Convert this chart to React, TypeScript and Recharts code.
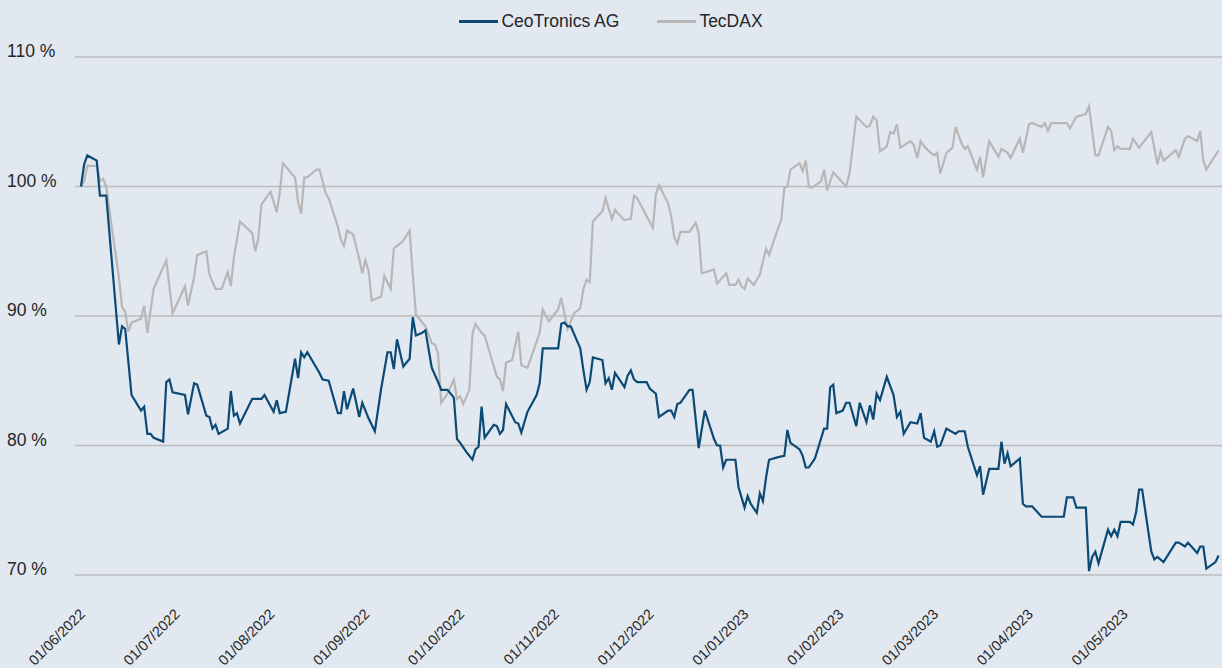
import { CartesianGrid, Line, LineChart, XAxis, YAxis } from "recharts";

const SERIES_NAMES = ["CeoTronics AG", "TecDAX"];
const SERIES_COLORS = ["#0b4a75", "#b8b6b6"];

const MONTH_LABELS = [
  "01/06/2022",
  "01/07/2022",
  "01/08/2022",
  "01/09/2022",
  "01/10/2022",
  "01/11/2022",
  "01/12/2022",
  "01/01/2023",
  "01/02/2023",
  "01/03/2023",
  "01/04/2023",
  "01/05/2023",
];

const Y_TICKS = [70, 80, 90, 100, 110];

// indexed performance, 01/06/2022 = 100 %
const ceotronics: [string, number][] = [
  ["2022-06-01", 100.0], ["2022-06-02", 101.7], ["2022-06-03", 102.4], ["2022-06-06", 102.0],
  ["2022-06-07", 99.3], ["2022-06-09", 99.3], ["2022-06-13", 87.8], ["2022-06-14", 89.2],
  ["2022-06-15", 89.0], ["2022-06-17", 83.9], ["2022-06-20", 82.7], ["2022-06-21", 83.0],
  ["2022-06-22", 80.9], ["2022-06-23", 80.9], ["2022-06-24", 80.6], ["2022-06-27", 80.3],
  ["2022-06-28", 84.9], ["2022-06-29", 85.1], ["2022-06-30", 84.1], ["2022-07-04", 83.9],
  ["2022-07-05", 82.4], ["2022-07-07", 84.8], ["2022-07-08", 84.7], ["2022-07-11", 82.3],
  ["2022-07-12", 82.2], ["2022-07-13", 81.3], ["2022-07-14", 81.6], ["2022-07-15", 80.9],
  ["2022-07-18", 81.3], ["2022-07-19", 84.2], ["2022-07-20", 82.3], ["2022-07-21", 82.5],
  ["2022-07-22", 81.7], ["2022-07-26", 83.6], ["2022-07-29", 83.6], ["2022-07-30", 83.9],
  ["2022-08-02", 82.6], ["2022-08-03", 83.5], ["2022-08-04", 82.5], ["2022-08-06", 82.6],
  ["2022-08-09", 86.7], ["2022-08-10", 85.2], ["2022-08-11", 87.2], ["2022-08-12", 86.8],
  ["2022-08-13", 87.2], ["2022-08-17", 85.6], ["2022-08-18", 85.1], ["2022-08-20", 85.0],
  ["2022-08-23", 82.5], ["2022-08-24", 82.5], ["2022-08-25", 84.2], ["2022-08-26", 82.8],
  ["2022-08-28", 84.4], ["2022-08-30", 82.2], ["2022-08-31", 83.3], ["2022-09-02", 82.1],
  ["2022-09-04", 81.1], ["2022-09-06", 84.4], ["2022-09-08", 87.2], ["2022-09-09", 87.2],
  ["2022-09-10", 85.9], ["2022-09-11", 88.2], ["2022-09-13", 86.1], ["2022-09-15", 86.7],
  ["2022-09-16", 89.9], ["2022-09-17", 88.5], ["2022-09-19", 88.7], ["2022-09-20", 88.9],
  ["2022-09-22", 86.0], ["2022-09-24", 84.9], ["2022-09-25", 84.3], ["2022-09-27", 84.3],
  ["2022-09-29", 83.7], ["2022-09-30", 80.5], ["2022-10-01", 80.2], ["2022-10-03", 79.5],
  ["2022-10-05", 78.9], ["2022-10-06", 79.7], ["2022-10-07", 79.9], ["2022-10-08", 83.0],
  ["2022-10-09", 80.6], ["2022-10-12", 81.6], ["2022-10-13", 81.5], ["2022-10-14", 80.9],
  ["2022-10-15", 81.2], ["2022-10-16", 83.2], ["2022-10-19", 81.8], ["2022-10-20", 81.7],
  ["2022-10-21", 81.0], ["2022-10-23", 82.6], ["2022-10-26", 83.9], ["2022-10-27", 84.8],
  ["2022-10-28", 87.5], ["2022-11-02", 87.5], ["2022-11-03", 89.4], ["2022-11-04", 89.5],
  ["2022-11-05", 89.2], ["2022-11-06", 89.2], ["2022-11-09", 87.5], ["2022-11-10", 85.8],
  ["2022-11-11", 84.3], ["2022-11-12", 84.9], ["2022-11-13", 86.8], ["2022-11-16", 86.6],
  ["2022-11-17", 84.8], ["2022-11-18", 85.2], ["2022-11-19", 84.3], ["2022-11-20", 85.6],
  ["2022-11-23", 84.5], ["2022-11-24", 85.4], ["2022-11-25", 85.8], ["2022-11-26", 85.1],
  ["2022-11-27", 84.9], ["2022-11-30", 84.9], ["2022-12-01", 84.4], ["2022-12-03", 84.0],
  ["2022-12-04", 82.2], ["2022-12-07", 82.7], ["2022-12-08", 82.7], ["2022-12-09", 82.2],
  ["2022-12-10", 83.2], ["2022-12-11", 83.3], ["2022-12-14", 84.3], ["2022-12-15", 84.3],
  ["2022-12-17", 79.8], ["2022-12-19", 82.7], ["2022-12-22", 80.5], ["2022-12-23", 80.0],
  ["2022-12-24", 80.0], ["2022-12-25", 78.3], ["2022-12-26", 78.9], ["2022-12-29", 78.9],
  ["2022-12-30", 76.8], ["2023-01-01", 75.2], ["2023-01-02", 76.1], ["2023-01-03", 75.5],
  ["2023-01-05", 74.8], ["2023-01-06", 76.3], ["2023-01-07", 75.7], ["2023-01-08", 77.5],
  ["2023-01-09", 78.9], ["2023-01-12", 79.1], ["2023-01-14", 79.2], ["2023-01-15", 81.2],
  ["2023-01-16", 80.2], ["2023-01-19", 79.7], ["2023-01-20", 79.2], ["2023-01-21", 78.3],
  ["2023-01-22", 78.3], ["2023-01-24", 79.0], ["2023-01-27", 81.3], ["2023-01-28", 81.3],
  ["2023-01-29", 84.5], ["2023-01-30", 84.7], ["2023-01-31", 82.5], ["2023-02-02", 82.7],
  ["2023-02-03", 83.3], ["2023-02-04", 83.3], ["2023-02-06", 81.5], ["2023-02-07", 83.3],
  ["2023-02-09", 81.8], ["2023-02-10", 83.1], ["2023-02-11", 82.0], ["2023-02-12", 84.0],
  ["2023-02-13", 83.5], ["2023-02-15", 85.3], ["2023-02-17", 83.9], ["2023-02-18", 82.2],
  ["2023-02-19", 82.6], ["2023-02-20", 80.9], ["2023-02-22", 81.8], ["2023-02-24", 81.7],
  ["2023-02-25", 82.5], ["2023-02-26", 80.6], ["2023-02-28", 80.3], ["2023-03-01", 81.1],
  ["2023-03-02", 79.9], ["2023-03-03", 80.0], ["2023-03-05", 81.3], ["2023-03-08", 80.9],
  ["2023-03-09", 81.1], ["2023-03-11", 81.1], ["2023-03-12", 79.9], ["2023-03-15", 77.7],
  ["2023-03-16", 78.4], ["2023-03-17", 76.2], ["2023-03-18", 77.2], ["2023-03-19", 78.2],
  ["2023-03-22", 78.2], ["2023-03-23", 80.3], ["2023-03-24", 78.6], ["2023-03-25", 79.4],
  ["2023-03-26", 78.4], ["2023-03-29", 79.0], ["2023-03-30", 75.5], ["2023-03-31", 75.3],
  ["2023-04-02", 75.3], ["2023-04-05", 74.5], ["2023-04-12", 74.5], ["2023-04-13", 76.0],
  ["2023-04-15", 76.0], ["2023-04-16", 75.2], ["2023-04-19", 75.2], ["2023-04-20", 70.3],
  ["2023-04-21", 71.4], ["2023-04-22", 71.8], ["2023-04-23", 70.9], ["2023-04-26", 73.5],
  ["2023-04-27", 73.0], ["2023-04-28", 73.5], ["2023-04-29", 73.0], ["2023-04-30", 74.1],
  ["2023-05-03", 74.1], ["2023-05-04", 73.9], ["2023-05-05", 74.8], ["2023-05-06", 76.6],
  ["2023-05-07", 76.6], ["2023-05-10", 71.8], ["2023-05-11", 71.2], ["2023-05-12", 71.4],
  ["2023-05-14", 71.0], ["2023-05-18", 72.5], ["2023-05-19", 72.5], ["2023-05-21", 72.2],
  ["2023-05-22", 72.5], ["2023-05-25", 71.7], ["2023-05-26", 72.2], ["2023-05-27", 72.2],
  ["2023-05-28", 70.5], ["2023-05-31", 71.0], ["2023-06-01", 71.5],
];

const tecdax: [string, number][] = [
  ["2022-06-01", 100.0], ["2022-06-02", 100.4], ["2022-06-03", 101.6], ["2022-06-06", 101.6],
  ["2022-06-07", 100.4], ["2022-06-08", 100.6], ["2022-06-09", 100.0], ["2022-06-11", 96.4],
  ["2022-06-13", 93.0], ["2022-06-14", 90.7], ["2022-06-15", 90.3], ["2022-06-16", 88.8],
  ["2022-06-17", 89.5], ["2022-06-20", 89.8], ["2022-06-21", 90.8], ["2022-06-22", 88.7],
  ["2022-06-24", 92.1], ["2022-06-28", 94.3], ["2022-06-30", 90.2], ["2022-07-04", 92.3],
  ["2022-07-05", 90.8], ["2022-07-07", 93.0], ["2022-07-08", 94.7], ["2022-07-11", 95.0],
  ["2022-07-12", 93.2], ["2022-07-14", 92.1], ["2022-07-16", 92.1], ["2022-07-18", 93.4],
  ["2022-07-19", 92.3], ["2022-07-20", 94.5], ["2022-07-22", 97.3], ["2022-07-26", 96.4],
  ["2022-07-27", 95.0], ["2022-07-28", 96.0], ["2022-07-29", 98.6], ["2022-08-01", 99.6],
  ["2022-08-03", 98.0], ["2022-08-04", 99.5], ["2022-08-05", 101.8], ["2022-08-09", 100.7],
  ["2022-08-10", 98.8], ["2022-08-11", 97.9], ["2022-08-12", 100.7], ["2022-08-13", 100.7],
  ["2022-08-16", 101.3], ["2022-08-17", 101.3], ["2022-08-19", 99.5], ["2022-08-20", 99.1],
  ["2022-08-23", 96.9], ["2022-08-24", 95.9], ["2022-08-25", 95.4], ["2022-08-26", 96.6],
  ["2022-08-28", 96.3], ["2022-08-30", 94.4], ["2022-08-31", 93.3], ["2022-09-01", 94.3],
  ["2022-09-02", 93.5], ["2022-09-03", 91.2], ["2022-09-06", 91.5], ["2022-09-07", 93.1],
  ["2022-09-09", 92.1], ["2022-09-10", 95.2], ["2022-09-13", 95.8], ["2022-09-15", 96.6],
  ["2022-09-16", 93.2], ["2022-09-17", 90.1], ["2022-09-20", 89.2], ["2022-09-22", 87.9],
  ["2022-09-23", 87.8], ["2022-09-24", 87.1], ["2022-09-25", 83.3], ["2022-09-27", 84.0],
  ["2022-09-29", 85.1], ["2022-09-30", 83.6], ["2022-10-01", 83.8], ["2022-10-02", 83.2],
  ["2022-10-04", 84.3], ["2022-10-05", 88.6], ["2022-10-06", 89.4], ["2022-10-08", 88.7],
  ["2022-10-09", 88.5], ["2022-10-13", 85.3], ["2022-10-14", 85.1], ["2022-10-15", 84.2],
  ["2022-10-16", 86.4], ["2022-10-18", 86.6], ["2022-10-20", 88.8], ["2022-10-21", 86.2],
  ["2022-10-23", 86.0], ["2022-10-27", 88.7], ["2022-10-28", 90.5], ["2022-10-30", 89.6],
  ["2022-10-31", 89.9], ["2022-11-02", 90.5], ["2022-11-03", 91.4], ["2022-11-05", 89.0],
  ["2022-11-07", 90.2], ["2022-11-09", 90.6], ["2022-11-10", 92.1], ["2022-11-11", 92.8],
  ["2022-11-12", 92.6], ["2022-11-13", 97.3], ["2022-11-16", 98.1], ["2022-11-17", 99.1],
  ["2022-11-19", 97.5], ["2022-11-20", 98.2], ["2022-11-21", 97.9], ["2022-11-23", 97.4],
  ["2022-11-25", 97.5], ["2022-11-26", 99.3], ["2022-11-27", 99.1], ["2022-12-02", 96.8],
  ["2022-12-03", 99.4], ["2022-12-04", 100.1], ["2022-12-07", 98.7], ["2022-12-08", 97.7],
  ["2022-12-09", 96.1], ["2022-12-10", 95.6], ["2022-12-11", 96.5], ["2022-12-14", 96.5],
  ["2022-12-16", 97.2], ["2022-12-17", 96.4], ["2022-12-18", 93.3], ["2022-12-22", 93.6],
  ["2022-12-23", 92.5], ["2022-12-26", 93.3], ["2022-12-27", 92.4], ["2022-12-29", 92.4],
  ["2022-12-30", 92.8], ["2022-12-31", 92.3], ["2023-01-01", 92.1], ["2023-01-02", 92.9],
  ["2023-01-04", 92.4], ["2023-01-06", 93.2], ["2023-01-08", 95.2], ["2023-01-09", 94.7],
  ["2023-01-12", 96.8], ["2023-01-13", 97.4], ["2023-01-14", 99.9], ["2023-01-15", 100.0],
  ["2023-01-16", 101.3], ["2023-01-19", 101.8], ["2023-01-20", 101.2], ["2023-01-21", 102.0],
  ["2023-01-22", 100.0], ["2023-01-23", 99.9], ["2023-01-26", 100.4], ["2023-01-27", 101.3],
  ["2023-01-28", 99.7], ["2023-01-30", 101.1], ["2023-02-03", 100.0], ["2023-02-04", 101.0],
  ["2023-02-06", 105.4], ["2023-02-09", 104.6], ["2023-02-10", 104.7], ["2023-02-11", 105.4],
  ["2023-02-12", 105.1], ["2023-02-13", 102.7], ["2023-02-15", 103.1], ["2023-02-16", 104.2],
  ["2023-02-17", 104.1], ["2023-02-18", 104.8], ["2023-02-19", 103.0], ["2023-02-22", 103.5],
  ["2023-02-23", 103.2], ["2023-02-24", 102.2], ["2023-02-25", 103.5], ["2023-02-26", 103.1],
  ["2023-02-28", 102.6], ["2023-03-01", 102.4], ["2023-03-02", 102.6], ["2023-03-03", 101.0],
  ["2023-03-05", 102.6], ["2023-03-07", 103.0], ["2023-03-08", 104.6], ["2023-03-10", 103.3],
  ["2023-03-11", 102.9], ["2023-03-12", 103.1], ["2023-03-15", 101.3], ["2023-03-16", 102.3],
  ["2023-03-17", 100.7], ["2023-03-19", 103.5], ["2023-03-22", 102.3], ["2023-03-23", 102.9],
  ["2023-03-25", 102.6], ["2023-03-26", 102.2], ["2023-03-29", 103.7], ["2023-03-30", 102.6],
  ["2023-04-01", 104.8], ["2023-04-02", 104.9], ["2023-04-05", 104.6], ["2023-04-06", 104.9],
  ["2023-04-07", 104.3], ["2023-04-08", 104.9], ["2023-04-13", 104.9], ["2023-04-14", 104.5],
  ["2023-04-16", 105.4], ["2023-04-19", 105.6], ["2023-04-20", 106.2], ["2023-04-22", 102.4],
  ["2023-04-23", 102.4], ["2023-04-26", 104.6], ["2023-04-27", 104.3], ["2023-04-28", 102.8],
  ["2023-04-29", 103.1], ["2023-04-30", 102.9], ["2023-05-03", 102.9], ["2023-05-04", 103.7],
  ["2023-05-06", 103.0], ["2023-05-08", 103.6], ["2023-05-10", 104.2], ["2023-05-12", 101.7],
  ["2023-05-13", 102.7], ["2023-05-14", 102.0], ["2023-05-18", 102.8], ["2023-05-19", 102.3],
  ["2023-05-21", 103.7], ["2023-05-22", 103.9], ["2023-05-25", 103.5], ["2023-05-26", 104.3],
  ["2023-05-27", 102.0], ["2023-05-28", 101.3], ["2023-06-01", 102.8],
];

const FONT = '"Liberation Sans", Arial, Helvetica, sans-serif';
const TEXT = "#262626";
const BG = "#e2e8f0";

// months are spaced evenly on the axis, so a date becomes month index + fraction
function monthPos(date: string) {
  const [y, m, d] = date.split("-").map(Number);
  const idx = (y - 2022) * 12 + (m - 6);
  const days = new Date(y, m, 0).getDate();
  return idx + (d - 1) / days;
}

const toRows = (list: [string, number][]) =>
  list.map(([date, v]) => ({ date, x: monthPos(date), v }));

const ceoRows = toRows(ceotronics);
const tecRows = toRows(tecdax);

function XTick({ x, y, payload }: any) {
  const tx = x + 5;
  const ty = y + 40;
  return (
    <text
      x={tx}
      y={ty}
      transform={`rotate(-45 ${tx} ${ty})`}
      textAnchor="end"
      fontFamily={FONT}
      fontSize={14.5}
      fill={TEXT}
    >
      {MONTH_LABELS[payload.value]}
    </text>
  );
}

function YTick({ y, payload }: any) {
  return (
    <text x={7} y={y} textAnchor="start" fontFamily={FONT} fontSize={17.5} fill={TEXT}>
      {`${payload.value} %`}
    </text>
  );
}

export default function App() {
  return (
    <div
      style={{
        position: "absolute",
        left: 0,
        top: 0,
        width: 1222,
        height: 668,
        background: BG,
        overflow: "hidden",
      }}
    >
      <div
        style={{
          position: "absolute",
          top: 11,
          left: 0,
          width: 1222,
          display: "flex",
          justifyContent: "center",
          gap: 38,
          fontFamily: FONT,
          fontSize: 17.5,
          color: TEXT,
        }}
      >
        {SERIES_NAMES.map((name, i) => (
          <div key={name} style={{ display: "flex", alignItems: "center", gap: 3 }}>
            <span
              style={{ display: "inline-block", width: 39, height: 3, background: SERIES_COLORS[i] }}
            />
            <span>{name}</span>
          </div>
        ))}
      </div>

      <LineChart width={1222} height={668} margin={{ top: 57, right: 0, bottom: 0, left: 0 }}>
        <CartesianGrid horizontal vertical={false} stroke="#bcbcbc" strokeWidth={1.5} />
        <XAxis
          type="number"
          dataKey="x"
          domain={[-0.063, 12.036]}
          ticks={MONTH_LABELS.map((_, i) => i)}
          interval={0}
          height={93}
          axisLine={false}
          tickLine={false}
          tickSize={0}
          tickMargin={0}
          tick={<XTick />}
        />
        <YAxis
          type="number"
          domain={[70, 110]}
          ticks={Y_TICKS}
          width={75}
          axisLine={false}
          tickLine={false}
          tick={<YTick />}
        />
        <Line
          data={tecRows}
          dataKey="v"
          name={SERIES_NAMES[1]}
          stroke={SERIES_COLORS[1]}
          strokeWidth={2.2}
          dot={false}
          isAnimationActive={false}
        />
        <Line
          data={ceoRows}
          dataKey="v"
          name={SERIES_NAMES[0]}
          stroke={SERIES_COLORS[0]}
          strokeWidth={2.2}
          dot={false}
          isAnimationActive={false}
        />
      </LineChart>
    </div>
  );
}
